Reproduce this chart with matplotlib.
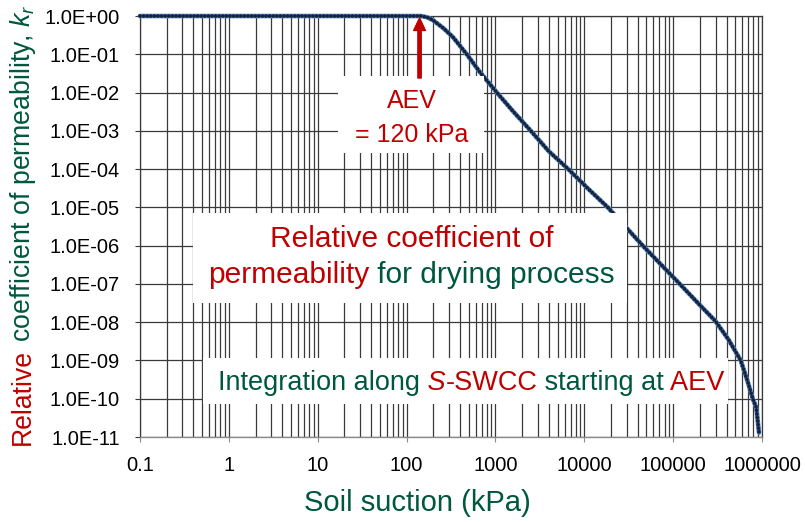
import numpy as np
import matplotlib
matplotlib.use("Agg")
import matplotlib.pyplot as plt
from matplotlib.patches import Rectangle
from matplotlib.ticker import FixedLocator, FuncFormatter, LogLocator, NullLocator

plt.rcParams['font.family'] = 'Liberation Sans'
plt.rcParams['mathtext.fontset'] = 'custom'
plt.rcParams['mathtext.rm'] = 'Liberation Sans'
plt.rcParams['mathtext.it'] = 'Liberation Sans:italic'

# Dati: suzione (kPa) e permeabilita relativa kr
suction = [0.1, 1, 10, 100, 145, 170, 198, 260, 333, 476, 670, 1038, 1550, 2500,
           4000, 6600, 11000, 18400, 45500, 118600, 200000, 301000, 420000,
           576000, 690000, 787000, 860000, 925000]
kr = [1.0, 1.0, 1.0, 1.0, 1.0, 0.93, 0.78, 0.48, 0.28, 0.1, 0.034, 1.0e-2, 3.4e-3, 1.0e-3,
      2.9e-4, 1.0e-4, 3.1e-5, 1.0e-5, 1.0e-6, 1.0e-7, 2.8e-8, 1.05e-8, 3.5e-9,
      1.0e-9, 2.8e-10, 1.0e-10, 6.0e-11, 1.3e-11]

aev = 140          # posizione della freccia AEV (kPa)
aev_label = ['AEV', '= 120 kPa']
x_ticks = [0.1, 1, 10, 100, 1000, 10000, 100000, 1000000]
y_ticks = [10.0 ** -k for k in range(0, 12)]

red = '#C00000'
green = '#00573F'
grid_col = '#3a3a3a'

fig = plt.figure(figsize=(8.05, 5.22), dpi=100)
ax = fig.add_axes([0.1739, 0.1628, 0.7727, 0.8065])
ax.set_xscale('log')
ax.set_yscale('log')
ax.set_xlim(0.1, 1e6)
ax.set_ylim(1e-11, 1)

# Griglia: linee orizzontali alle decadi, verticali su tutte le suddivisioni
ax.xaxis.set_major_locator(FixedLocator(x_ticks))
ax.xaxis.set_minor_locator(LogLocator(base=10, subs=np.arange(2, 10), numticks=50))
ax.yaxis.set_major_locator(FixedLocator(y_ticks))
ax.yaxis.set_minor_locator(NullLocator())
ax.xaxis.set_major_formatter(FuncFormatter(lambda v, p: '0.1' if v < 1 else str(int(round(v)))))
ax.yaxis.set_major_formatter(FuncFormatter(lambda v, p: f'{v:.1E}'))
ax.set_axisbelow(True)
ax.grid(True, which='major', color=grid_col, lw=0.9)
ax.grid(True, which='minor', axis='x', color=grid_col, lw=0.9)

for s in ['left', 'right', 'top']:
    ax.spines[s].set_color(grid_col)
    ax.spines[s].set_linewidth(0.9)
ax.spines['bottom'].set_color('#8c8c8c')
ax.spines['bottom'].set_linewidth(1.0)

ax.tick_params(axis='y', which='major', length=3.6, color=grid_col, labelsize=14.5, pad=10.8)
ax.tick_params(axis='x', which='major', length=3.6, color='#8c8c8c', labelsize=14.5, pad=10)
ax.tick_params(axis='x', which='minor', length=0)

# Curva: linea azzurra con punti scuri fitti
ax.plot(suction, kr, color='#4F81BD', lw=3.3, zorder=3, clip_on=False,
        solid_capstyle='round', solid_joinstyle='round')
ax.plot(suction, kr, color='#16233D', lw=2.7, zorder=3.1, clip_on=False,
        linestyle=(0, (0.01, 0.95)), dash_capstyle='round')

# Riquadri bianchi delle didascalie
for x0, y0, w, h in [(0.318, 0.675, 0.235, 0.182),
                     (0.0852, 0.318, 0.698, 0.214),
                     (0.101, 0.078, 0.844, 0.110)]:
    ax.add_patch(Rectangle((x0, y0), w, h, transform=ax.transAxes,
                           facecolor='white', edgecolor='none', zorder=4))

# Freccia AEV
ax.annotate('', xy=(aev, 0.89), xytext=(aev, 0.024),
            arrowprops=dict(facecolor=red, edgecolor=red, width=2.4,
                            headwidth=8.5, headlength=9, shrink=0),
            zorder=6, annotation_clip=False)
ax.text(0.437, 0.781, aev_label[0], transform=ax.transAxes, ha='center',
        va='baseline', fontsize=18, color=red, zorder=6)
ax.text(0.437, 0.701, aev_label[1], transform=ax.transAxes, ha='center',
        va='baseline', fontsize=18, color=red, zorder=6)


def colored_line(x, y, pieces, size):
    s, c, st = pieces[0]
    t = ax.text(x, y, s, color=c, fontstyle=st, transform=ax.transAxes,
                ha='left', va='baseline', fontsize=size, zorder=6)
    for s, c, st in pieces[1:]:
        t = ax.annotate(s, xy=(1, y), xycoords=(t, 'axes fraction'), color=c,
                        fontstyle=st, ha='left', va='baseline', fontsize=size,
                        zorder=6, annotation_clip=False)


ax.text(0.437, 0.451, 'Relative coefficient of', transform=ax.transAxes,
        ha='center', va='baseline', fontsize=21.5, color=red, zorder=6)
colored_line(0.109, 0.366, [('permeability', red, 'normal'),
                            (' for drying process', green, 'normal')], 21.5)
colored_line(0.125, 0.112, [('Integration along', green, 'normal'),
                            (' S', red, 'italic'),
                            ('-SWCC', red, 'normal'),
                            (' starting at', green, 'normal'),
                            (' AEV', red, 'normal')], 19.5)

# Etichette degli assi
fig.text(0.519, 0.036, 'Soil suction (kPa)', ha='center', va='center',
         fontsize=21, color=green)
t = fig.text(0.0373, 0.1475, 'Relative', rotation=90, rotation_mode='anchor',
             ha='left', va='baseline', fontsize=19.2, color=red)
ax.annotate(' coefficient of permeability, $k_r$', xy=(0.0373, 1),
            xycoords=('figure fraction', t), rotation=90, rotation_mode='anchor',
            ha='left', va='baseline', fontsize=19.2, color=green,
            annotation_clip=False)

fig.savefig('out.png', dpi=100)
